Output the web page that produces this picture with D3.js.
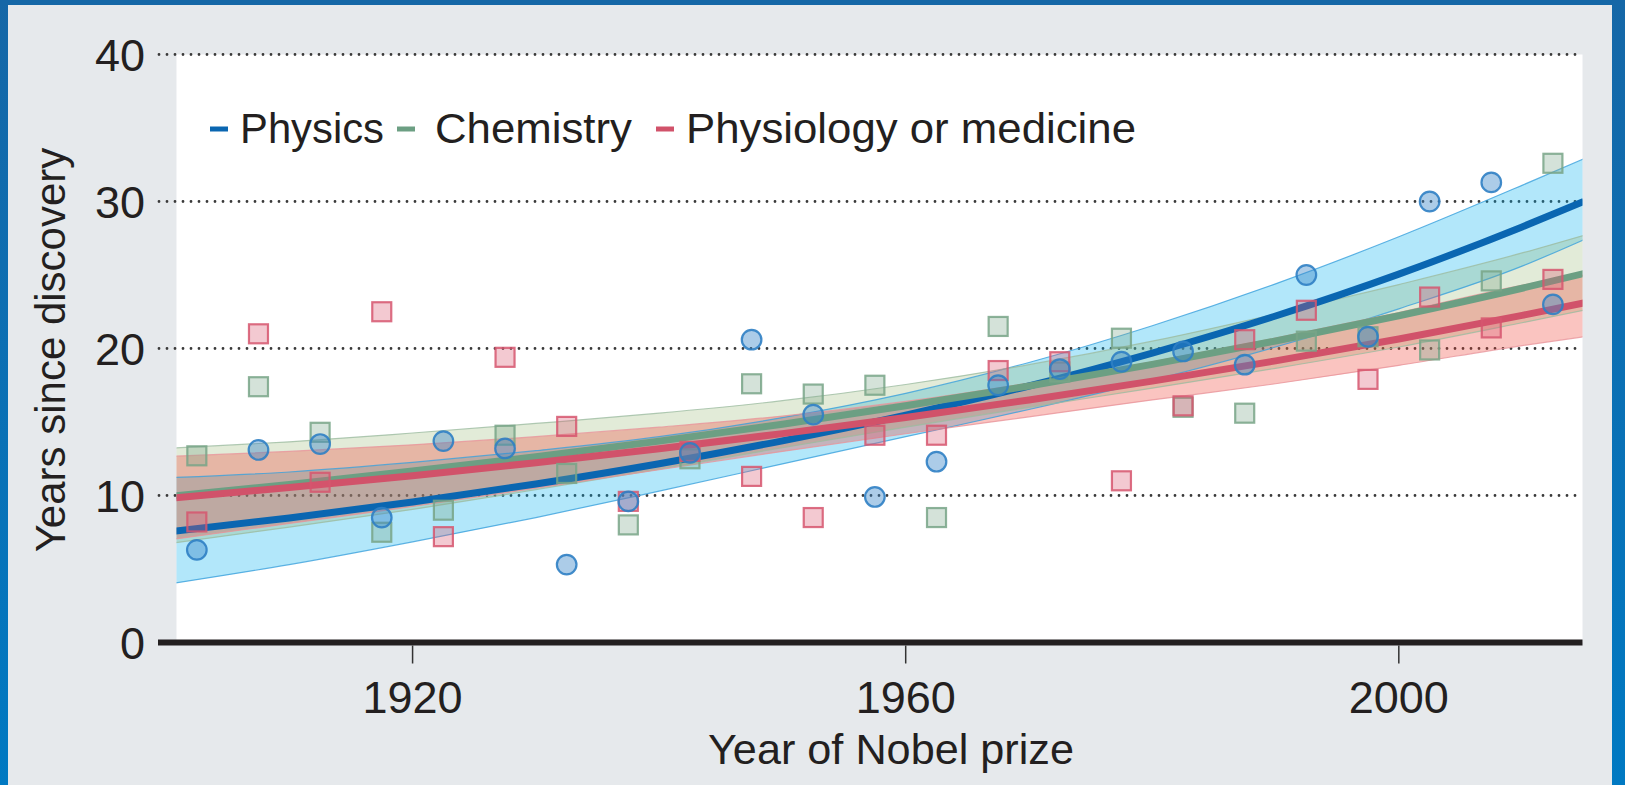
<!DOCTYPE html>
<html>
<head>
<meta charset="utf-8">
<script src="https://cdn.jsdelivr.net/npm/d3@7"></script>
<style>
  html, body { margin: 0; padding: 0; overflow: hidden; background: #e6e9ec; }
  svg { display: block; }
  text { font-family: "Liberation Sans", Arial, sans-serif; fill: #231f20; }
</style>
</head>
<body>
<svg id="chart" width="1625" height="785"></svg>
<script>
// ---------------- DATA ----------------
const pointYears = [1902.5, 1907.5, 1912.5, 1917.5, 1922.5, 1927.5, 1932.5, 1937.5, 1942.5, 1947.5, 1952.5, 1957.5,
                    1962.5, 1967.5, 1972.5, 1977.5, 1982.5, 1987.5, 1992.5, 1997.5, 2002.5, 2007.5, 2012.5];
const physicsPoints   = [6.3, 13.1, 13.5, 8.5, 13.7, 13.2, 5.3, 9.6, 12.9, 20.6, 15.5, 9.9, 12.3, 17.5, 18.6, 19.1, 19.8, 18.9, 25.0, 20.8, 30.0, 31.3, 23.0];
const chemistryPoints = [12.7, 17.4, 14.3, 7.5, 9.0, 14.1, 11.5, 8.0, 12.5, 17.6, 16.9, 17.5, 8.5, 21.5, 18.4, 20.7, 16.0, 15.6, 20.5, 20.8, 19.9, 24.6, 32.6];
const medicinePoints  = [8.2, 21.0, 10.9, 22.5, 7.2, 19.4, 14.7, 9.6, 13.0, 11.3, 8.5, 14.1, 14.1, 18.5, 19.1, 11.0, 16.1, 20.6, 22.6, 17.9, 23.5, 21.4, 24.7];

const fitYears     = [1900, 1910, 1920, 1930, 1940, 1950, 1960, 1970, 1980, 1990, 2000, 2010, 2015];
const physicsFit   = [7.51, 8.47, 9.56, 10.78, 12.16, 13.72, 15.47, 17.45, 19.69, 22.21, 25.06, 28.27, 30.0];
const physicsLow   = [3.95, 5.3, 6.85, 8.5, 10.3, 12.15, 14.0, 15.85, 17.85, 20.1, 22.7, 25.6, 27.4];
const physicsHigh  = [11.2, 11.6, 12.25, 13.05, 14.0, 15.3, 16.95, 19.05, 21.55, 24.4, 27.6, 31.1, 32.9];
const chemFit      = [9.92, 10.75, 11.66, 12.64, 13.70, 14.85, 16.10, 17.45, 18.92, 20.51, 22.23, 24.10, 25.1];
const chemLow      = [6.7, 7.85, 9.05, 10.4, 11.8, 13.25, 14.65, 16.0, 17.3, 18.65, 20.1, 21.75, 22.6];
const chemHigh     = [13.2, 13.65, 14.25, 14.9, 15.6, 16.45, 17.55, 18.9, 20.5, 22.35, 24.35, 26.5, 27.7];
const medFit       = [9.78, 10.54, 11.35, 12.23, 13.18, 14.21, 15.31, 16.50, 17.78, 19.16, 20.65, 22.25, 23.1];
const medLow       = [6.95, 8.1, 9.25, 10.5, 11.75, 13.0, 14.2, 15.35, 16.5, 17.6, 18.85, 20.2, 20.8];
const medHigh      = [12.65, 13.0, 13.45, 14.0, 14.65, 15.4, 16.4, 17.65, 19.1, 20.7, 22.45, 24.3, 25.0];

const xTicks = [1920, 1960, 2000];
const yTicks = [0, 10, 20, 30, 40];
const legendLabels = ["Physics", "Chemistry", "Physiology or medicine"];

// ---------------- LAYOUT ----------------
const W = 1625, H = 785;
const plot = { left: 176.5, right: 1582.5, top: 54.5, bottom: 642.5 };
const svg = d3.select("#chart");

const x = d3.scaleLinear().domain([1900.85, 2014.9]).range([plot.left, plot.right]);
const y = d3.scaleLinear().domain([0, 40]).range([plot.bottom, plot.top]);

// background + borders
const defs = svg.append("defs");
const grad = defs.append("linearGradient").attr("id", "bord").attr("x1", 0).attr("y1", 0).attr("x2", 0).attr("y2", 1);
grad.append("stop").attr("offset", "0%").attr("stop-color", "#1567a7");
grad.append("stop").attr("offset", "100%").attr("stop-color", "#0079c2");
svg.append("rect").attr("width", W).attr("height", H).attr("fill", "#e6e9ec");
svg.append("rect").attr("x", 0).attr("y", 0).attr("width", 8).attr("height", H).attr("fill", "url(#bord)");
svg.append("rect").attr("x", 0).attr("y", 0).attr("width", W).attr("height", 5).attr("fill", "#1567a7");
svg.append("rect").attr("x", 1612).attr("y", 0).attr("width", 13).attr("height", H).attr("fill", "url(#bord)");

// white plot area
svg.append("rect").attr("x", plot.left).attr("y", plot.top)
  .attr("width", plot.right - plot.left).attr("height", plot.bottom - plot.top).attr("fill", "#ffffff");

defs.append("clipPath").attr("id", "clip").append("rect")
  .attr("x", plot.left).attr("y", plot.top - 20)
  .attr("width", plot.right - plot.left).attr("height", plot.bottom - plot.top + 20);

// grid lines
svg.append("g").selectAll("line").data(yTicks.filter(d => d > 0)).join("line")
  .attr("x1", 159).attr("x2", plot.right)
  .attr("y1", d => y(d)).attr("y2", d => y(d))
  .attr("stroke", "#3a3a3a").attr("stroke-width", 2.8)
  .attr("stroke-linecap", "round").attr("stroke-dasharray", "0 8");

// bands + fits
const series = [
  { fit: physicsFit, low: physicsLow, high: physicsHigh, band: "#00aeef", bandOp: 0.3, edge: "#3aa0dc", line: "#0a66b1" },
  { fit: chemFit, low: chemLow, high: chemHigh, band: "#8fb26a", bandOp: 0.26, edge: "#9cbca0", line: "#6c9f83" },
  { fit: medFit, low: medLow, high: medHigh, band: "#ee3a30", bandOp: 0.3, edge: "#e8949a", line: "#d1526a" }
];

const gPlot = svg.append("g").attr("clip-path", "url(#clip)");
const curve = d3.curveMonotoneX;
const area = d3.area().x(d => x(d.t)).y0(d => y(d.lo)).y1(d => y(d.hi)).curve(curve);
const line = d3.line().x(d => x(d.t)).y(d => y(d.v)).curve(curve);

series.forEach(s => {
  const rows = fitYears.map((t, i) => ({ t, lo: s.low[i], hi: s.high[i] }));
  gPlot.append("path").datum(rows).attr("d", area)
    .attr("fill", s.band).attr("fill-opacity", s.bandOp);
});
series.forEach(s => {
  const lo = fitYears.map((t, i) => ({ t, v: s.low[i] }));
  const hi = fitYears.map((t, i) => ({ t, v: s.high[i] }));
  [lo, hi].forEach(r => gPlot.append("path").datum(r).attr("d", line)
    .attr("fill", "none").attr("stroke", s.edge).attr("stroke-width", 1.2).attr("stroke-opacity", 0.8));
});
series.forEach(s => {
  const rows = fitYears.map((t, i) => ({ t, v: s.fit[i] }));
  gPlot.append("path").datum(rows).attr("d", line)
    .attr("fill", "none").attr("stroke", s.line).attr("stroke-width", 7);
});

// markers
const sq = 19;
svg.append("g").selectAll("rect").data(pointYears.map((t, i) => ({ t, v: chemistryPoints[i] }))).join("rect")
  .attr("x", d => x(d.t) - sq / 2).attr("y", d => y(d.v) - sq / 2)
  .attr("width", sq).attr("height", sq)
  .attr("fill", "#7aa68a").attr("fill-opacity", 0.32)
  .attr("stroke", "#78a487").attr("stroke-width", 2.2).attr("stroke-opacity", 0.85);
svg.append("g").selectAll("rect").data(pointYears.map((t, i) => ({ t, v: medicinePoints[i] }))).join("rect")
  .attr("x", d => x(d.t) - sq / 2).attr("y", d => y(d.v) - sq / 2)
  .attr("width", sq).attr("height", sq)
  .attr("fill", "#d9576f").attr("fill-opacity", 0.32)
  .attr("stroke", "#d6566e").attr("stroke-width", 2.2).attr("stroke-opacity", 0.85);
svg.append("g").selectAll("circle").data(pointYears.map((t, i) => ({ t, v: physicsPoints[i] }))).join("circle")
  .attr("cx", d => x(d.t)).attr("cy", d => y(d.v)).attr("r", 9.8)
  .attr("fill", "#3a86c8").attr("fill-opacity", 0.42)
  .attr("stroke", "#2f7fc4").attr("stroke-width", 2.2).attr("stroke-opacity", 0.9);

// x axis
svg.append("line").attr("x1", 158).attr("x2", plot.right).attr("y1", y(0)).attr("y2", y(0))
  .attr("stroke", "#231f20").attr("stroke-width", 6);
svg.append("g").selectAll("line").data(xTicks).join("line")
  .attr("x1", d => x(d)).attr("x2", d => x(d)).attr("y1", y(0) + 3).attr("y2", y(0) + 21)
  .attr("stroke", "#333").attr("stroke-width", 1.5);
svg.append("g").selectAll("text").data(xTicks).join("text")
  .attr("x", d => x(d)).attr("y", 713).attr("text-anchor", "middle")
  .attr("font-size", 45).text(d => d);

// y labels
svg.append("g").selectAll("text").data(yTicks).join("text")
  .attr("x", 145).attr("y", d => y(d)).attr("dy", "0.36em").attr("text-anchor", "end")
  .attr("font-size", 45).text(d => d);

// axis titles
svg.append("text").attr("x", 891).attr("y", 764).attr("text-anchor", "middle")
  .attr("font-size", 43).attr("textLength", 366).attr("lengthAdjust", "spacingAndGlyphs")
  .text("Year of Nobel prize");
svg.append("text").attr("transform", "translate(65,350) rotate(-90)").attr("text-anchor", "middle")
  .attr("font-size", 42).text("Years since discovery");

// legend
const legendPos = [{ dx: 210, tx: 240, w: 144 }, { dx: 397, tx: 435, w: 197 }, { dx: 656, tx: 686, w: 450 }];
const lg = svg.append("g");
legendLabels.forEach((lab, i) => {
  lg.append("line").attr("x1", legendPos[i].dx).attr("x2", legendPos[i].dx + 18)
    .attr("y1", 129).attr("y2", 129).attr("stroke", series[i].line).attr("stroke-width", 5);
  lg.append("text").attr("x", legendPos[i].tx).attr("y", 143).attr("font-size", 43)
    .attr("textLength", legendPos[i].w).attr("lengthAdjust", "spacingAndGlyphs").text(lab);
});
</script>
</body>
</html>
